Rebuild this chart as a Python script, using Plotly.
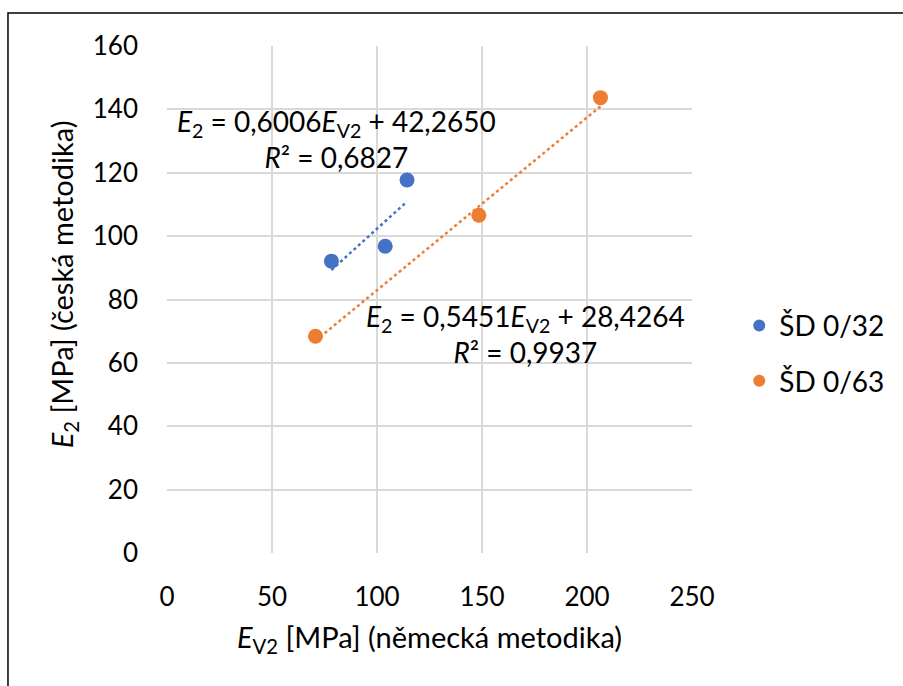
import numpy as np
import plotly.graph_objects as go

# Data
series_names = ["ŠD 0/32", "ŠD 0/63"]
x_sd32 = [78.3, 103.9, 114.3]
y_sd32 = [92.1, 96.8, 117.7]
x_sd63 = [70.7, 148.5, 206.4]
y_sd63 = [68.4, 106.6, 143.7]
slope = [0.6006, 0.5451]
intercept = [42.2650, 28.4264]
r2 = [0.6827, 0.9937]
x_ticks = [0, 50, 100, 150, 200, 250]
y_ticks = [0, 20, 40, 60, 80, 100, 120, 140, 160]
x_title = "<i>E</i><sub>V2</sub> [MPa] (německá metodika)"
y_title = "<i>E</i><sub>2</sub> [MPa] (česká metodika)"

colors = ["#4472C4", "#ED7D31"]
FONT = "Lato"

fig = go.Figure()
xs = [x_sd32, x_sd63]
ys = [y_sd32, y_sd63]
for i in range(2):
    xl = np.array([min(xs[i]), max(xs[i])])
    yl = slope[i] * xl + intercept[i]
    fig.add_trace(go.Scatter(x=xl, y=yl, mode="lines", showlegend=False,
                             line=dict(color=colors[i], width=2.5, dash="dot"),
                             hoverinfo="skip"))
for i in range(2):
    fig.add_trace(go.Scatter(x=xs[i], y=ys[i], mode="markers", name=series_names[i],
                             legendgroup=series_names[i],
                             marker=dict(color=colors[i], size=15)))

def fmt(v, d):
    return f"{v:.{d}f}".replace(".", ",")

ann_pos = [(80.5, 130.5), (170.5, 69.0)]
for i in range(2):
    txt = (f"<i>E</i><sub>2</sub> = {fmt(slope[i],4)}<i>E</i><sub>V2</sub> + {fmt(intercept[i],4)}"
           f"<br><i>R</i>² = {fmt(r2[i],4)}")
    fig.add_annotation(x=ann_pos[i][0], y=ann_pos[i][1], xref="x", yref="y", text=txt,
                       showarrow=False, align="center",
                       font=dict(family=FONT, size=28, color="black"))

# y-axis title placed as rotated text
fig.add_annotation(x=-0.198, y=0.53, xref="paper", yref="paper", text=y_title,
                   textangle=-90, showarrow=False, xanchor="center", yanchor="middle",
                   font=dict(family=FONT, size=29, color="black"))

fig.add_shape(type="rect", xref="paper", yref="paper", x0=-0.3029, x1=1.42, y0=-0.3,
              y1=1.0651, line=dict(color="black", width=1.5), layer="above")

fig.update_layout(
    width=903, height=686,
    margin=dict(l=167, r=211, t=46, b=133),
    paper_bgcolor="white", plot_bgcolor="white",
    font=dict(family=FONT, size=26, color="black"),
    xaxis=dict(range=[0, 250], tickvals=x_ticks, showgrid=True, gridcolor="#d9d9d9",
               gridwidth=1.5, zeroline=False, showline=False, ticks="",
               ticklabelstandoff=26, automargin=False,
               title=dict(text=x_title, font=dict(size=29), standoff=16)),
    yaxis=dict(range=[0, 160], tickvals=y_ticks, showgrid=True, gridcolor="#d9d9d9",
               gridwidth=1.5, zeroline=False, showline=False, ticks="",
               ticklabelstandoff=28, automargin=False),
    legend=dict(x=1.09, y=0.394, xanchor="left", yanchor="middle",
                font=dict(size=28), tracegroupgap=16, itemsizing="constant"),
    showlegend=True,
)

fig.write_html("out.html")
